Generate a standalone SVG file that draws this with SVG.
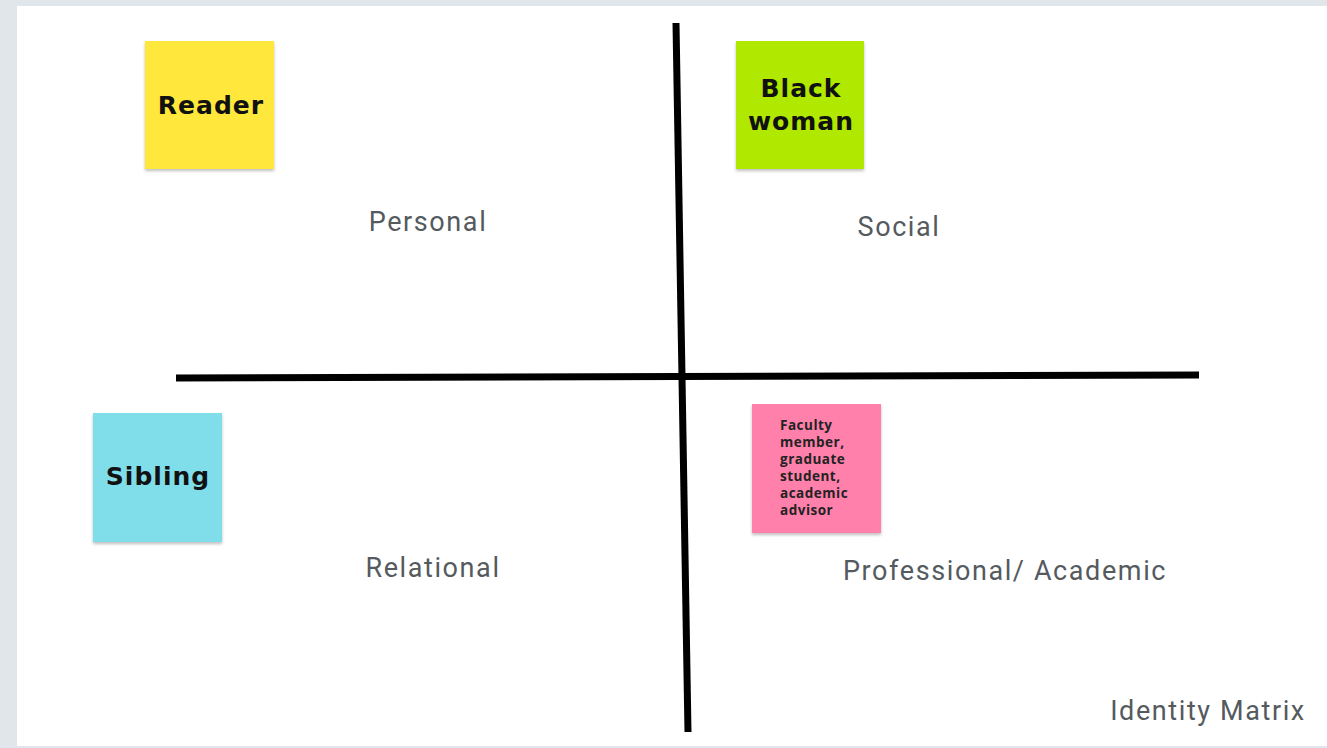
<svg xmlns="http://www.w3.org/2000/svg" width="1327" height="748" viewBox="0 0 1327 748">
<defs>
<filter id="sh" x="-10%" y="-10%" width="120%" height="125%">
<feDropShadow dx="0" dy="2" stdDeviation="1.5" flood-color="#000" flood-opacity="0.25"/>
</filter>
<style>
.note{filter:url(#sh)}
.nt{font-family:"DejaVu Sans","Noto Sans",sans-serif;font-weight:bold;font-size:25px;letter-spacing:1px;fill:#111;text-anchor:middle}
.lbl{font-family:Roboto,"Liberation Sans",sans-serif;font-size:27px;letter-spacing:1.6px;fill:#555a5e;text-anchor:middle}
.ax{stroke:#000;stroke-width:7;stroke-linecap:butt;fill:none}
.sm{font-family:"Open Sans","Noto Sans",sans-serif;font-weight:700;font-size:13.5px;letter-spacing:0.5px;fill:#222}
</style>
</defs>
<rect x="0" y="0" width="1327" height="748" fill="#e0e6e9"/>
<rect x="17" y="6" width="1310" height="740" fill="#ffffff"/>
<g id="axes">
<line class="ax" x1="676" y1="23" x2="688" y2="732"/>
<line class="ax" x1="176" y1="378" x2="1199" y2="375"/>
</g>
<g id="reader">
<rect class="note" x="145" y="41" width="129" height="128" fill="#ffe83b"/>
<text class="nt" x="211" y="114">Reader</text>
</g>
<g id="black-woman">
<rect class="note" x="736" y="41" width="128" height="128" fill="#b0e800"/>
<text class="nt" x="801" y="97">Black</text>
<text class="nt" x="801" y="130">woman</text>
</g>
<g id="sibling">
<rect class="note" x="93" y="413" width="129" height="129" fill="#80deea"/>
<text class="nt" x="158" y="485">Sibling</text>
</g>
<g id="faculty">
<rect class="note" x="752" y="404" width="129" height="129" fill="#ff80ab"/>
<text class="sm" x="780" y="430">Faculty</text>
<text class="sm" x="780" y="447">member,</text>
<text class="sm" x="780" y="464">graduate</text>
<text class="sm" x="780" y="481">student,</text>
<text class="sm" x="780" y="498">academic</text>
<text class="sm" x="780" y="515">advisor</text>
</g>
<g id="labels">
<text class="lbl" x="428" y="231">Personal</text>
<text class="lbl" x="899" y="236">Social</text>
<text class="lbl" x="433" y="577">Relational</text>
<text class="lbl" x="1005" y="580">Professional/ Academic</text>
<text class="lbl" x="1208" y="720">Identity Matrix</text>
</g>
</svg>
